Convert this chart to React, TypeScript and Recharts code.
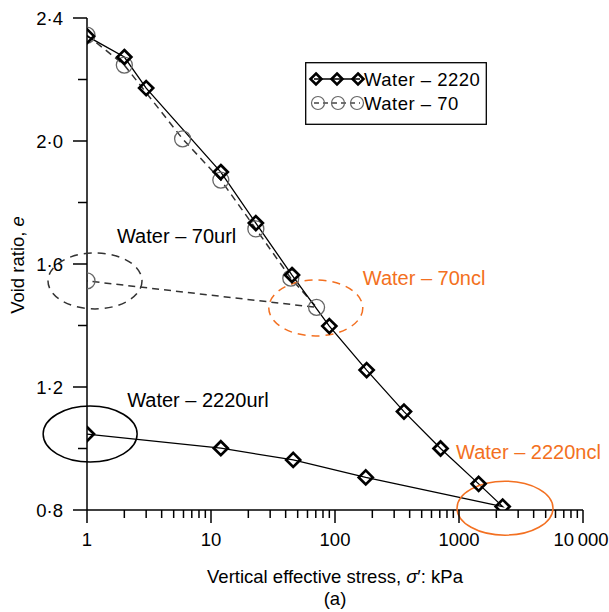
import React from 'react'
import { LineChart, Line, XAxis, YAxis, ReferenceDot, Legend } from 'recharts'

// Water – 2220: loading to 2250 kPa then unloading back to 1 kPa
const stress2220 = [1, 2, 3, 12, 23, 45, 90, 180, 360, 710, 1440, 2250, 177, 46, 12, 1]
const voidRatio2220 = [
  2.341, 2.273, 2.172, 1.899, 1.733, 1.564, 1.398, 1.255, 1.12, 1.0, 0.885, 0.811,
  0.906, 0.963, 1.001, 1.047
]

// Water – 70: loading to 71 kPa then unloading to 1 kPa
const stress70 = [1, 2, 5.9, 12, 23, 44, 71, 1]
const voidRatio70 = [2.344, 2.247, 2.007, 1.873, 1.714, 1.554, 1.459, 1.545]

const xTicks = [
  1, 2, 3, 4, 5, 6, 7, 8, 9,
  10, 20, 30, 40, 50, 60, 70, 80, 90,
  100, 200, 300, 400, 500, 600, 700, 800, 900,
  1000, 2000, 3000, 4000, 5000, 6000, 7000, 8000, 9000,
  10000
]
const yTicks = [0.8, 1.0, 1.2, 1.4, 1.6, 1.8, 2.0, 2.2, 2.4]

// ellipse notes
const noteNames = ['Water – 70url', 'Water – 70ncl', 'Water – 2220url', 'Water – 2220ncl']
const noteStress = [1.16, 70, 1.06, 2350]
const noteVoidRatio = [1.545, 1.457, 1.047, 0.806]

const ORANGE = '#f37021'
const FONT = 'Arial, "Liberation Sans", Helvetica, sans-serif'

const noteStyles = [
  { color: '#333', dash: '8 6', rx: 47, ry: 28, dx: 22, dy: -38 },
  { color: ORANGE, dash: '8 6', rx: 47, ry: 28, dx: 47, dy: -23 },
  { color: '#000', dash: undefined, rx: 47, ry: 28, dx: 37, dy: -27 },
  { color: ORANGE, dash: undefined, rx: 48, ry: 27, dx: -49, dy: -49 }
]

const data2220 = stress2220.map((s, i) => ({ stress: s, e: voidRatio2220[i] }))
const data70 = stress70.map((s, i) => ({ stress: s, e: voidRatio70[i] }))

const textStyle = { fontFamily: FONT, fontSize: 18.5 }
const noteText = { fontFamily: FONT, fontSize: 20 }

const diamondPath = (cx: number, cy: number, r: number) =>
  `M${cx},${cy - r}L${cx + r},${cy}L${cx},${cy + r}L${cx - r},${cy}Z`

const Diamond = (props: any) => {
  const { cx, cy, index } = props
  return (
    <path
      key={`dia-${index}`}
      d={diamondPath(cx, cy, 7)}
      fill="none"
      stroke="#000"
      strokeWidth={2.7}
    />
  )
}

const Ring = (props: any) => {
  const { cx, cy, index } = props
  return <circle key={`ring-${index}`} cx={cx} cy={cy} r={8} fill="none" stroke="#666" strokeWidth={1.3} />
}

const XTick = (props: any) => {
  const { x, y, payload } = props
  const v = payload.value
  const lg = Math.log10(v)
  const major = Math.abs(lg - Math.round(lg)) < 1e-9
  return (
    <g>
      <line x1={x} x2={x} y1={y} y2={y + (major ? 13 : 8)} stroke="#000" strokeWidth={1.5} />
      {major && (
        <text x={v === 10000 ? x - 2 : x} y={y + 36} textAnchor="middle" fill="#000" style={textStyle}>
          {v === 10000 ? '10\u2009000' : String(v)}
        </text>
      )}
    </g>
  )
}

const YTick = (props: any) => {
  const { x, y, payload } = props
  const v = payload.value
  const k = (v - 0.8) / 0.4
  const major = Math.abs(k - Math.round(k)) < 1e-6
  return (
    <g>
      <line x1={x - (major ? 14 : 9)} x2={x} y1={y} y2={y} stroke="#000" strokeWidth={1.5} />
      {major && (
        <text x={x - 24} y={y + 7} textAnchor="end" fill="#000" style={textStyle}>
          {v.toFixed(1).replace('.', '·')}
        </text>
      )}
    </g>
  )
}

const legendText = { ...textStyle, letterSpacing: 0.5 }

const LegendBox = () => (
  <svg width={182} height={63} style={{ display: 'block' }}>
    <rect x={0.7} y={0.7} width={180.6} height={61.6} fill="#fff" stroke="#000" strokeWidth={1.3} />
    <line x1={9} x2={55} y1={17} y2={17} stroke="#000" strokeWidth={1.3} />
    {[11, 32, 53].map((cx) => (
      <path key={cx} d={diamondPath(cx, 17, 5.5)} fill="none" stroke="#000" strokeWidth={2.6} />
    ))}
    <text x={59} y={24} fill="#000" style={legendText}>Water – 2220</text>
    <line x1={9} x2={55} y1={41} y2={41} stroke="#444" strokeWidth={1.3} strokeDasharray="5 4" />
    {[13, 33, 52].map((cx) => (
      <circle key={cx} cx={cx} cy={41} r={6.5} fill="#fff" fillOpacity={0} stroke="#666" strokeWidth={1.2} />
    ))}
    <text x={59} y={48} fill="#000" style={legendText}>Water – 70</text>
  </svg>
)

const NoteShape = (i: number) => (props: any) => {
  const { cx, cy } = props
  const s = noteStyles[i]
  return (
    <g>
      <ellipse
        cx={cx}
        cy={cy}
        rx={s.rx}
        ry={s.ry}
        fill="none"
        stroke={s.color}
        strokeWidth={1.5}
        strokeDasharray={s.dash}
      />
      <text x={cx + s.dx} y={cy + s.dy} fill={s.color === '#333' ? '#000' : s.color} style={noteText}>
        {noteNames[i]}
      </text>
    </g>
  )
}

const XLabel = (props: any) => {
  const { viewBox } = props
  const cx = viewBox.x + viewBox.width / 2
  return (
    <g>
      <text x={cx} y={viewBox.y + 73} textAnchor="middle" fill="#000" style={textStyle}>
        Vertical effective stress, <tspan fontStyle="italic">σ</tspan>′: kPa
      </text>
      <text x={cx} y={viewBox.y + 95} textAnchor="middle" fill="#000" style={textStyle}>
        (a)
      </text>
    </g>
  )
}

const YLabel = () => (
  <text
    x={24}
    y={265}
    textAnchor="middle"
    transform="rotate(-90 24 265)"
    fill="#000"
    style={textStyle}
  >
    Void ratio, <tspan fontStyle="italic">e</tspan>
  </text>
)

export default function App() {
  return (
    <div style={{ position: 'absolute', left: 0, top: 0, background: '#fff' }}>
      <LineChart width={609} height={612} margin={{ top: 18, right: 26, bottom: 0, left: 0 }}>
        <XAxis
          dataKey="stress"
          type="number"
          scale="log"
          domain={[1, 10000]}
          ticks={xTicks}
          interval={0}
          height={102}
          tickSize={0}
          tickMargin={0}
          tickLine={false}
          axisLine={{ stroke: '#000', strokeWidth: 1.5 }}
          tick={<XTick />}
          label={<XLabel />}
          allowDataOverflow
        />
        <YAxis
          dataKey="e"
          type="number"
          domain={[0.8, 2.4]}
          ticks={yTicks}
          interval={0}
          width={87}
          tickSize={0}
          tickMargin={0}
          tickLine={false}
          axisLine={{ stroke: '#000', strokeWidth: 1.5 }}
          tick={<YTick />}
          label={<YLabel />}
          allowDataOverflow
        />
        {noteNames.map((n, i) => (
          <ReferenceDot
            key={n}
            x={noteStress[i]}
            y={noteVoidRatio[i]}
            r={1}
            ifOverflow="visible"
            shape={NoteShape(i)}
          />
        ))}
        <Line
          data={data70}
          dataKey="e"
          type="linear"
          stroke="#333"
          strokeWidth={1.5}
          strokeDasharray="7 5"
          dot={Ring}
          activeDot={false}
          isAnimationActive={false}
        />
        <Line
          data={data2220}
          dataKey="e"
          type="linear"
          stroke="#000"
          strokeWidth={1.3}
          dot={Diamond}
          activeDot={false}
          isAnimationActive={false}
        />
        <Legend
          layout="horizontal"
          verticalAlign="middle"
          align="center"
          wrapperStyle={{ left: 305, top: 62, width: 182, height: 63 }}
          content={() => <LegendBox />}
        />
      </LineChart>
    </div>
  )
}
